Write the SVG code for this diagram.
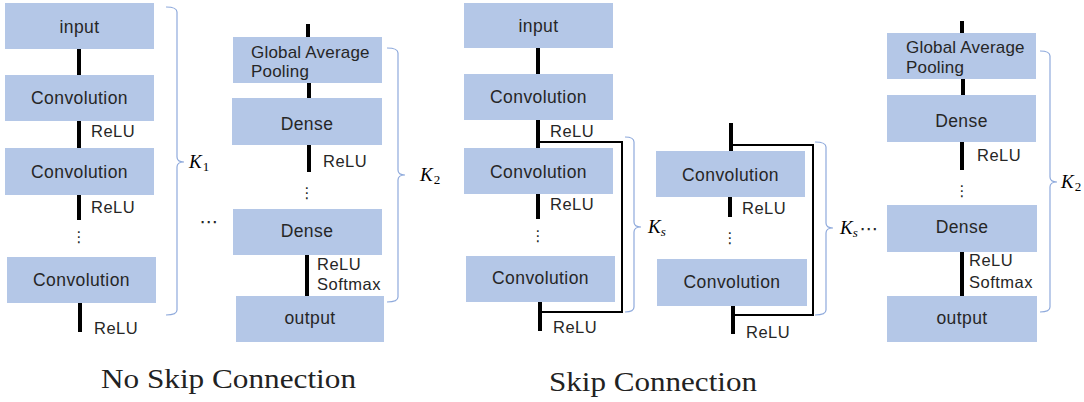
<svg xmlns="http://www.w3.org/2000/svg" width="1084" height="402" viewBox="0 0 1084 402">
<style>
.box{fill:#B4C7E7}
.bt{font-family:"Liberation Sans",Arial,sans-serif;font-size:17.5px;letter-spacing:0.4px;fill:#262626;text-anchor:middle}
.gt{font-family:"Liberation Sans",Arial,sans-serif;font-size:17px;letter-spacing:0.2px;fill:#262626}
.lb{font-family:"Liberation Sans",Arial,sans-serif;font-size:16.5px;letter-spacing:0.5px;fill:#262626}
.ed{stroke:#000;stroke-width:4;fill:none}
.sk{stroke:#000;stroke-width:2;fill:none}
.br{stroke:#8FAADC;stroke-width:1.2;fill:none}
.dots{font-family:"DejaVu Sans",sans-serif;font-size:15px;fill:#262626;text-anchor:middle}
.k{font-family:"Liberation Serif",serif;font-style:italic;font-size:19px;fill:#000}
.ks{font-family:"Liberation Serif",serif;font-size:13px;fill:#000}
.title{font-family:"Liberation Serif",serif;font-size:28px;fill:#222}
</style>
<g id="connectors">
<line class="ed" x1="79" y1="49" x2="79" y2="75"/>
<line class="ed" x1="79" y1="121" x2="79" y2="148"/>
<line class="ed" x1="79" y1="195" x2="79" y2="220"/>
<line class="ed" x1="80" y1="303" x2="80" y2="332"/>
<line class="ed" x1="308" y1="24" x2="308" y2="37"/>
<line class="ed" x1="309" y1="83" x2="309" y2="98"/>
<line class="ed" x1="309" y1="145" x2="309" y2="172"/>
<line class="ed" x1="307" y1="255" x2="307" y2="296"/>
<line class="ed" x1="538" y1="48" x2="538" y2="74"/>
<line class="ed" x1="538" y1="120" x2="538" y2="148"/>
<line class="ed" x1="538" y1="194" x2="538" y2="219"/>
<line class="ed" x1="540" y1="302" x2="540" y2="331"/>
<path class="sk" d="M538,142 H622 V312 H540"/>
<line class="ed" x1="731" y1="123" x2="731" y2="151"/>
<line class="ed" x1="730" y1="197" x2="730" y2="217"/>
<line class="ed" x1="733" y1="306" x2="733" y2="334"/>
<path class="sk" d="M731,145 H813 V315 H733"/>
<line class="ed" x1="962" y1="21" x2="962" y2="33"/>
<line class="ed" x1="963" y1="79" x2="963" y2="95"/>
<line class="ed" x1="962" y1="142" x2="962" y2="170"/>
<line class="ed" x1="962" y1="252" x2="962" y2="296"/>
</g>
<g id="labels">
<text class="lb" x="91" y="137">ReLU</text>
<text class="lb" x="91" y="213">ReLU</text>
<text class="lb" x="94" y="334">ReLU</text>
<text class="lb" x="323" y="167">ReLU</text>
<text class="lb" x="317" y="270">ReLU</text>
<text class="lb" x="317" y="290">Softmax</text>
<text class="lb" x="550" y="137">ReLU</text>
<text class="lb" x="550" y="210">ReLU</text>
<text class="lb" x="553" y="333">ReLU</text>
<text class="lb" x="742" y="214">ReLU</text>
<text class="lb" x="746" y="338">ReLU</text>
<text class="lb" x="977" y="161">ReLU</text>
<text class="lb" x="969" y="266">ReLU</text>
<text class="lb" x="969" y="288">Softmax</text>
<text class="dots" x="79" y="242">⋮</text>
<text class="dots" x="307" y="198">⋮</text>
<text class="dots" x="538" y="241">⋮</text>
<text class="dots" x="730" y="243">⋮</text>
<text class="dots" x="962" y="196">⋮</text>
<text class="dots" x="209" y="228" style="font-size:19px">⋯</text>
<text class="dots" x="869" y="235" style="font-size:19px">⋯</text>
</g>
<g id="brackets">
<path class="br" d="M166,7 Q177,7 177,12 V157 Q177,162 184,162 Q177,162 177,167 V310 Q177,315 166,315"/>
<path class="br" d="M387,48 Q398,48 398,53 V170 Q398,175 405,175 Q398,175 398,180 V297 Q398,302 387,302"/>
<path class="br" d="M625,137 Q634,137 634,142 V222 Q634,227 641,227 Q634,227 634,232 V307 Q634,312 625,312"/>
<path class="br" d="M815,142 Q826,142 826,147 V223 Q826,228 833,228 Q826,228 826,233 V310 Q826,315 815,315"/>
<path class="br" d="M1040,51 Q1050,51 1050,56 V177 Q1050,182 1057,182 Q1050,182 1050,187 V307 Q1050,312 1040,312"/>
<text class="k" x="189" y="168">K<tspan class="ks" dx="1" dy="3" style="font-style:normal">1</tspan></text>
<text class="k" x="420" y="181">K<tspan class="ks" dx="1" dy="3" style="font-style:normal">2</tspan></text>
<text class="k" x="648" y="233">K<tspan class="ks" dx="0" dy="3">s</tspan></text>
<text class="k" x="840" y="234">K<tspan class="ks" dx="0" dy="3">s</tspan></text>
<text class="k" x="1061" y="188">K<tspan class="ks" dx="1" dy="3" style="font-style:normal">2</tspan></text>
</g>
<g id="n-input1"><rect class="box" x="5" y="3" width="149" height="46"/><text class="bt" x="79.5" y="33">input</text></g>
<g id="n-conv1a"><rect class="box" x="5" y="75" width="149" height="46"/><text class="bt" x="79.5" y="104">Convolution</text></g>
<g id="n-conv1b"><rect class="box" x="5" y="148" width="149" height="47"/><text class="bt" x="79.5" y="178">Convolution</text></g>
<g id="n-conv1c"><rect class="box" x="7" y="257" width="149" height="46"/><text class="bt" x="81.5" y="286">Convolution</text></g>
<g id="n-gap1"><rect class="box" x="233" y="37" width="149" height="46"/><text class="gt" x="251" y="58">Global Average</text><text class="gt" x="251" y="77">Pooling</text></g>
<g id="n-dense1a"><rect class="box" x="232" y="98" width="150" height="47"/><text class="bt" x="307" y="130">Dense</text></g>
<g id="n-dense1b"><rect class="box" x="233" y="209" width="149" height="46"/><text class="bt" x="307" y="237">Dense</text></g>
<g id="n-output1"><rect class="box" x="236" y="296" width="148" height="46"/><text class="bt" x="310" y="324">output</text></g>
<g id="n-input2"><rect class="box" x="464" y="3" width="149" height="45"/><text class="bt" x="538.5" y="32">input</text></g>
<g id="n-conv2a"><rect class="box" x="464" y="74" width="149" height="46"/><text class="bt" x="538.5" y="103">Convolution</text></g>
<g id="n-conv2b"><rect class="box" x="464" y="148" width="149" height="46"/><text class="bt" x="538.5" y="178">Convolution</text></g>
<g id="n-conv2c"><rect class="box" x="466" y="256" width="149" height="46"/><text class="bt" x="540.5" y="284">Convolution</text></g>
<g id="n-conv3a"><rect class="box" x="656" y="151" width="149" height="46"/><text class="bt" x="730.5" y="181">Convolution</text></g>
<g id="n-conv3b"><rect class="box" x="657" y="259" width="150" height="47"/><text class="bt" x="732" y="288">Convolution</text></g>
<g id="n-gap2"><rect class="box" x="887" y="33" width="149" height="46"/><text class="gt" x="906" y="53">Global Average</text><text class="gt" x="906" y="73">Pooling</text></g>
<g id="n-dense2a"><rect class="box" x="887" y="95" width="149" height="47"/><text class="bt" x="961.5" y="127">Dense</text></g>
<g id="n-dense2b"><rect class="box" x="887" y="205" width="150" height="47"/><text class="bt" x="962" y="233">Dense</text></g>
<g id="n-output2"><rect class="box" x="887" y="296" width="150" height="46"/><text class="bt" x="962" y="324">output</text></g>
<g id="titles">
<text class="title" x="101" y="388" textLength="255" lengthAdjust="spacingAndGlyphs">No Skip Connection</text>
<text class="title" x="549" y="391" textLength="208" lengthAdjust="spacingAndGlyphs">Skip Connection</text>
</g>
</svg>
